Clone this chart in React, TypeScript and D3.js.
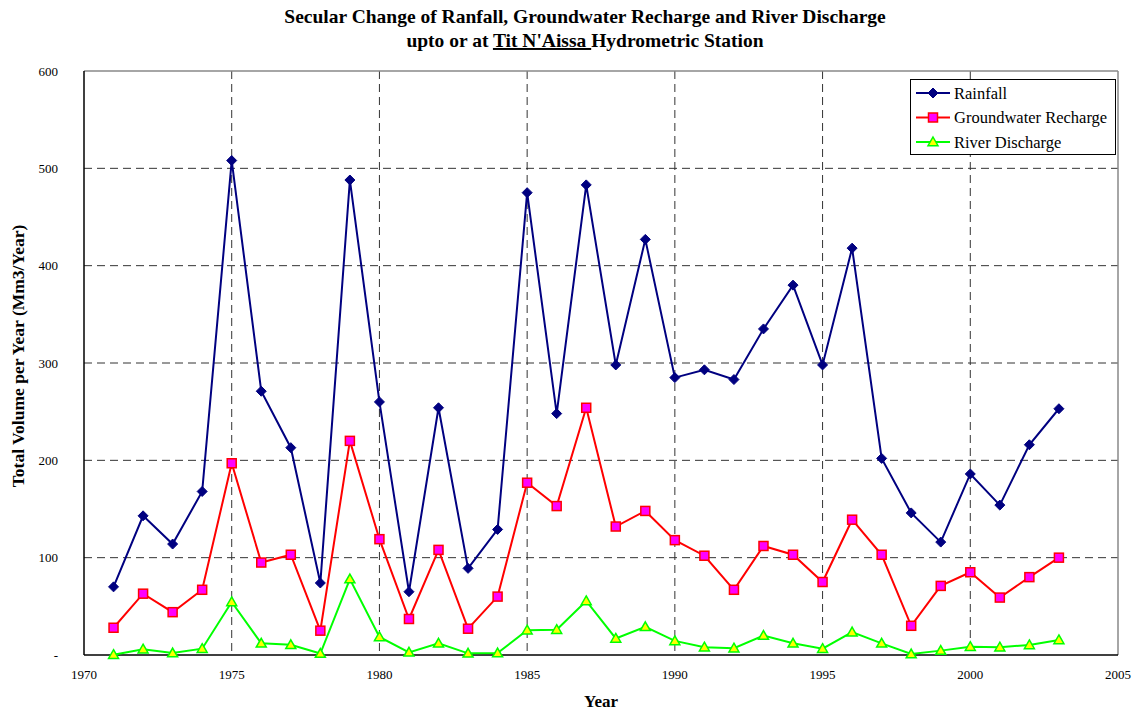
import React from "react";
import * as d3 from "d3";

const years = [1971,1972,1973,1974,1975,1976,1977,1978,1979,1980,1981,1982,1983,1984,1985,1986,1987,1988,1989,1990,1991,1992,1993,1994,1995,1996,1997,1998,1999,2000,2001,2002,2003];
const rainfall = [70,143,114,168,508,271,213,74,488,260,65,254,89,129,475,248,483,298,427,285,293,283,335,380,298,418,202,146,116,186,154,216,253];
const recharge = [28,63,44,67,197,95,103,25,220,119,37,108,27,60,177,153,254,132,148,118,102,67,112,103,75,139,103,30,71,85,59,80,100];
const discharge = [0.3,6,2,6.5,54.5,12,10.5,1.5,78,18.5,2.7,12,1.7,2,25.5,26,55.5,17,29,14.5,8,7,20,12,6.5,23.5,12,1,4.5,8.5,8,10.3,15.5];
const yTicks = [0,100,200,300,400,500,600];
const xTicks = [1970,1975,1980,1985,1990,1995,2000,2005];

const W = 1136, H = 713;
const L = 84, R = 1118, T = 71, B = 655;
const FONT = "'Liberation Serif', 'Times New Roman', serif";

export default function App() {
  const x = d3.scaleLinear().domain([1970, 2005]).range([L, R]);
  const y = d3.scaleLinear().domain([0, 600]).range([B, T]);
  const line = (vals: number[]) =>
    d3.line<number>().x((_, i) => x(years[i])).y((v) => y(v))(vals) || "";

  const diamond = (cx: number, cy: number, s: number) =>
    `M${cx},${cy - s}L${cx + s},${cy}L${cx},${cy + s}L${cx - s},${cy}Z`;
  const tri = (cx: number, cy: number, s: number) =>
    `M${cx},${cy - s}L${cx + s},${cy + s * 0.75}L${cx - s},${cy + s * 0.75}Z`;

  const legendItems = [
    { label: "Rainfall", kind: "d" },
    { label: "Groundwater Recharge", kind: "s" },
    { label: "River Discharge", kind: "t" },
  ];

  const marker = (kind: string, cx: number, cy: number, key?: any) => {
    if (kind === "d") return <path key={key} d={diamond(cx, cy, 5)} fill="#000080" stroke="#000080" strokeWidth={1} />;
    if (kind === "s") return <rect key={key} x={cx - 4.5} y={cy - 4.5} width={9} height={9} fill="#FF00FF" stroke="#FF0000" strokeWidth={1.5} />;
    return <path key={key} d={tri(cx, cy, 5)} fill="#FFFF00" stroke="#00FF00" strokeWidth={1.5} />;
  };
  const colorOf: Record<string, string> = { d: "#000080", s: "#FF0000", t: "#00FF00" };

  return (
    <svg width={W} height={H} style={{ position: "absolute", left: 0, top: 0, fontFamily: FONT }}>
      <rect x={0} y={0} width={W} height={H} fill="#fff" />
      {/* title */}
      <text x={585} y={23} textAnchor="middle" fontSize={19.5} fontWeight="bold" fill="#000">
        Secular Change of Ranfall, Groundwater Recharge and River Discharge
      </text>
      <text x={585} y={47} textAnchor="middle" fontSize={19.5} fontWeight="bold" fill="#000">
        upto or at <tspan textDecoration="underline">Tit N'Aissa </tspan>Hydrometric Station
      </text>

      {/* grid */}
      {yTicks.filter((t) => t > 0 && t < 600).map((t) => (
        <line key={"gy" + t} x1={L} x2={R} y1={y(t)} y2={y(t)} stroke="#333" strokeWidth={1} strokeDasharray="8,5" />
      ))}
      {xTicks.filter((t) => t > 1970 && t < 2005).map((t) => (
        <line key={"gx" + t} x1={x(t)} x2={x(t)} y1={T} y2={B} stroke="#333" strokeWidth={1} strokeDasharray="8,5" />
      ))}
      {/* frame */}
      <line x1={L} x2={R} y1={T} y2={T} stroke="#888" strokeWidth={1.5} />
      <line x1={R} x2={R} y1={T} y2={B} stroke="#888" strokeWidth={1.5} />
      <line x1={L} x2={L} y1={T} y2={B} stroke="#000" strokeWidth={1.5} />
      <line x1={L} x2={R} y1={B} y2={B} stroke="#000" strokeWidth={1.5} />

      {/* y labels */}
      {yTicks.map((t) => (
        <text key={"yl" + t} x={58} y={y(t) + 4.5} textAnchor="end" fontSize={13} fill="#000">
          {t === 0 ? "-" : t}
        </text>
      ))}
      {xTicks.map((t) => (
        <text key={"xl" + t} x={x(t)} y={679} textAnchor="middle" fontSize={13} fill="#000">
          {t}
        </text>
      ))}
      <text x={601} y={707} textAnchor="middle" fontSize={17} fontWeight="bold" fill="#000">Year</text>
      <text transform={`translate(24,356) rotate(-90)`} textAnchor="middle" fontSize={17.5} fontWeight="bold" fill="#000">
        Total Volume per Year (Mm3/Year)
      </text>

      {/* series */}
      <path d={line(rainfall)} fill="none" stroke="#000080" strokeWidth={2} />
      <path d={line(recharge)} fill="none" stroke="#FF0000" strokeWidth={2} />
      <path d={line(discharge)} fill="none" stroke="#00FF00" strokeWidth={2} />
      {rainfall.map((v, i) => marker("d", x(years[i]), y(v), "r" + i))}
      {recharge.map((v, i) => marker("s", x(years[i]), y(v), "g" + i))}
      {discharge.map((v, i) => marker("t", x(years[i]), y(v), "q" + i))}

      {/* legend */}
      <rect x={910.5} y={79.5} width={205} height={75} fill="#fff" stroke="#000" strokeWidth={1} />
      {legendItems.map((it, i) => {
        const cy = 93 + i * 24.5;
        return (
          <g key={"lg" + i}>
            <line x1={916} x2={950} y1={cy} y2={cy} stroke={colorOf[it.kind]} strokeWidth={2} />
            {marker(it.kind, 933, cy)}
            <text x={954} y={cy + 5.5} fontSize={16.5} fill="#000">{it.label}</text>
          </g>
        );
      })}
    </svg>
  );
}
